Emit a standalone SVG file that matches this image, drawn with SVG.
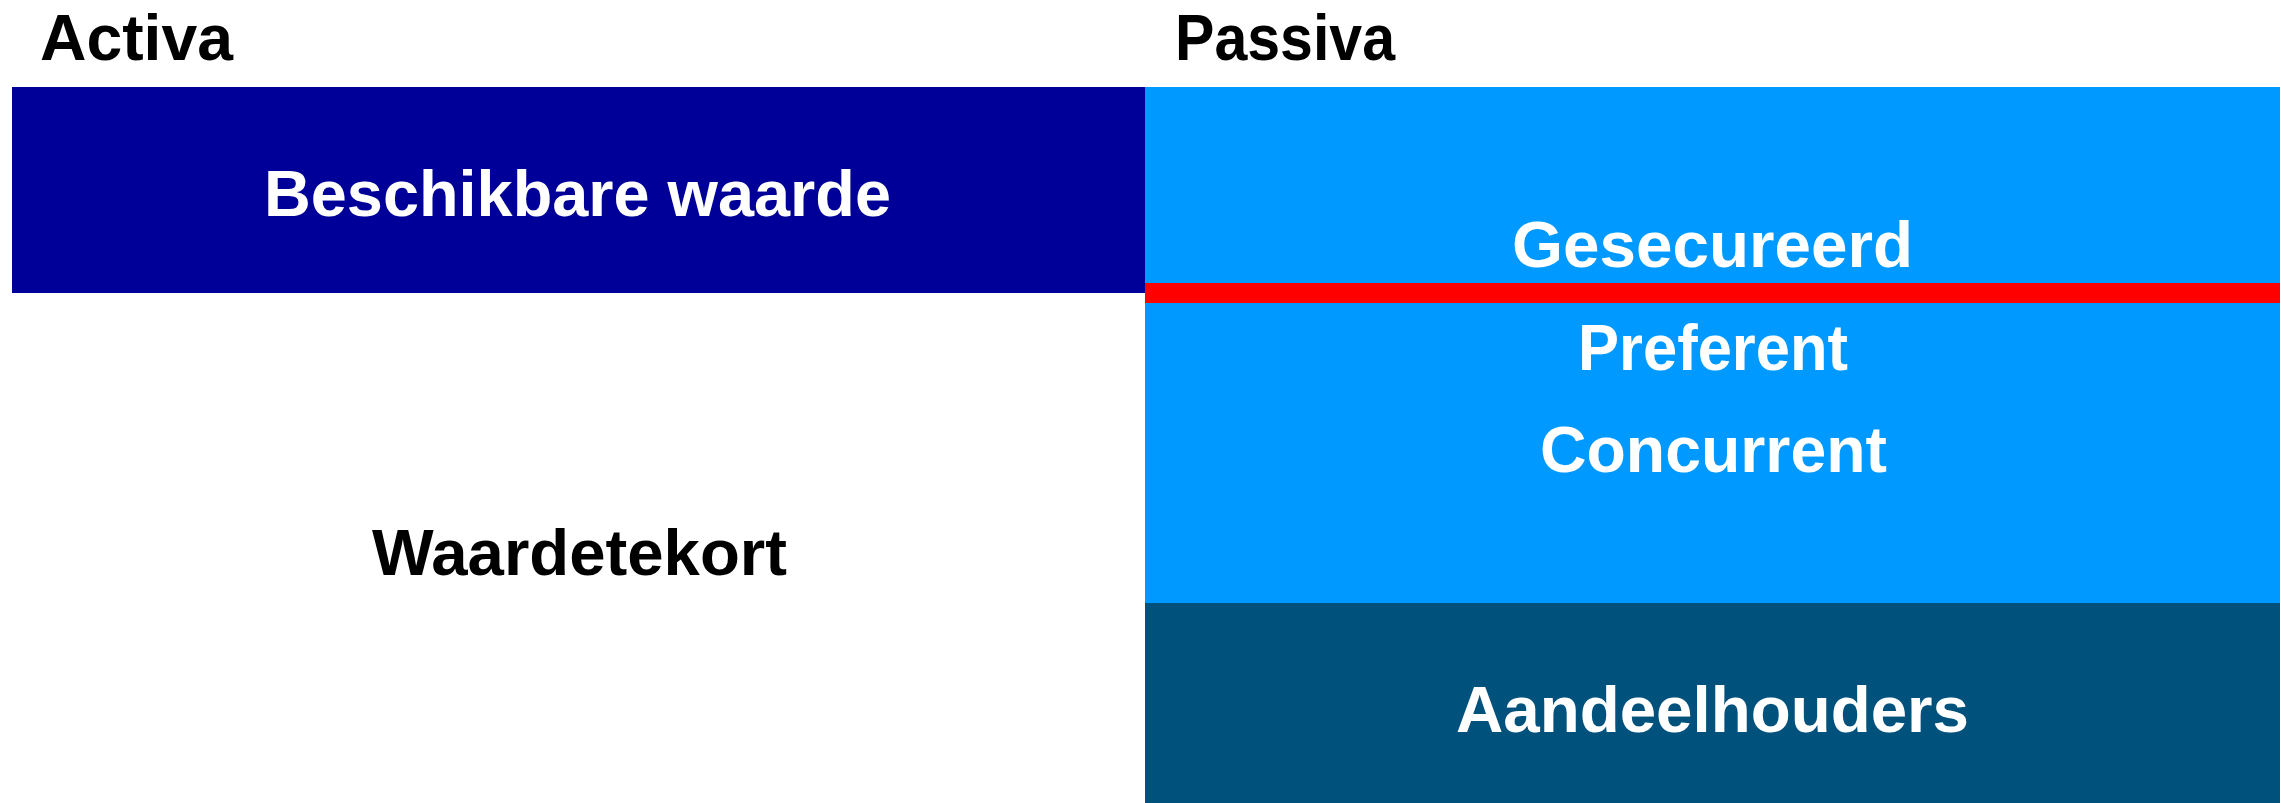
<svg xmlns="http://www.w3.org/2000/svg" width="2283" height="803" viewBox="0 0 2283 803">
<style>
text{font-family:"Liberation Sans",Arial,sans-serif;font-weight:bold;font-size:64px}
.w{fill:#FFFFFF}
.k{fill:#000000}
</style>
<rect x="0" y="0" width="2283" height="803" fill="#FFFFFF"/>
<g id="header-activa"><text class="k" x="40" y="60" textLength="193" lengthAdjust="spacingAndGlyphs">Activa</text></g>
<g id="header-passiva"><text class="k" x="1175" y="60" textLength="220" lengthAdjust="spacingAndGlyphs">Passiva</text></g>
<g id="beschikbare-waarde">
<rect x="12" y="87" width="1133" height="206" fill="#000099"/>
<text class="w" x="264" y="216" textLength="627" lengthAdjust="spacingAndGlyphs">Beschikbare waarde</text>
</g>
<g id="waardetekort"><text class="k" x="372" y="575" textLength="415" lengthAdjust="spacingAndGlyphs">Waardetekort</text></g>
<g id="schulden">
<rect x="1145" y="87" width="1135" height="516" fill="#0099FF"/>
<text class="w" x="1512" y="267" textLength="401" lengthAdjust="spacingAndGlyphs">Gesecureerd</text>
<text class="w" x="1578" y="370" textLength="270" lengthAdjust="spacingAndGlyphs">Preferent</text>
<text class="w" x="1540" y="472" textLength="347" lengthAdjust="spacingAndGlyphs">Concurrent</text>
</g>
<g id="connectors"><rect x="1145" y="283" width="1135" height="20" fill="#FF0000"/></g>
<g id="aandeelhouders">
<rect x="1145" y="603" width="1135" height="200" fill="#00527C"/>
<text class="w" x="1456" y="732" textLength="513" lengthAdjust="spacingAndGlyphs">Aandeelhouders</text>
</g>
</svg>
